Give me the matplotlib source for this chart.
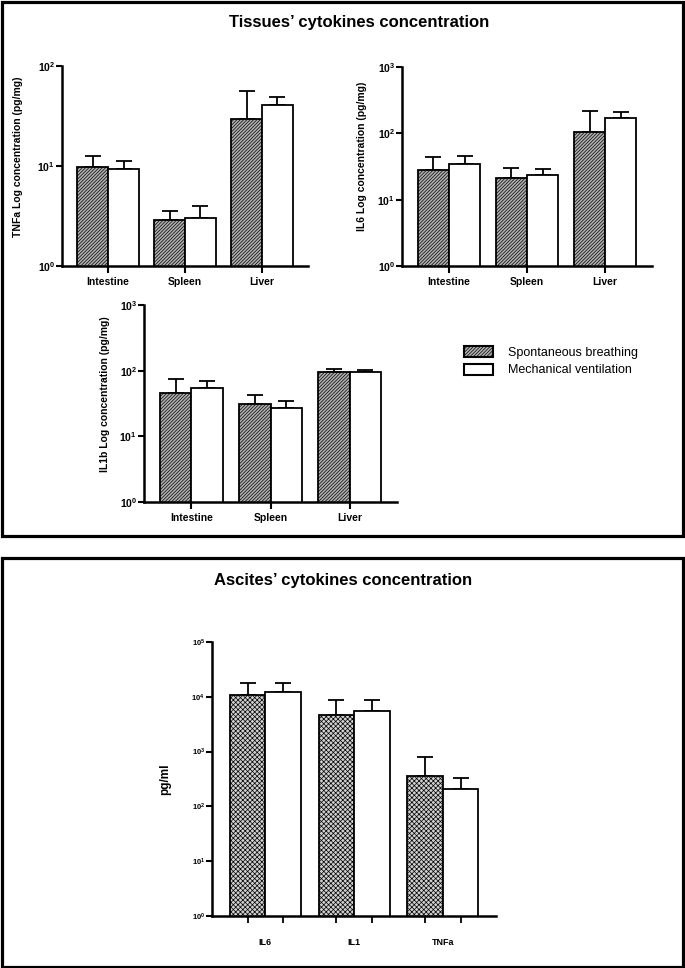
import numpy as np
import matplotlib.pyplot as plt
from matplotlib.patches import Patch, Rectangle

plt.rcParams['font.family'] = ['Liberation Sans', 'DejaVu Sans']
plt.rcParams['mathtext.fontset'] = 'custom'
plt.rcParams['mathtext.rm'] = 'Liberation Sans:bold'
plt.rcParams['mathtext.bf'] = 'Liberation Sans:bold'
plt.rcParams['mathtext.default'] = 'bf'
plt.rcParams['hatch.linewidth'] = 0.5

# tissue data (means and upper SD), pg/mg
organs = ['Intestine', 'Spleen', 'Liver']
tnfa_sb = [9.7, 2.9, 29.7]
tnfa_sb_sd = [2.9, 0.65, 26]
tnfa_mv = [9.3, 3.0, 40.7]
tnfa_mv_sd = [2.0, 1.0, 8.6]

il6_sb = [28, 21, 103]
il6_sb_sd = [16, 9, 111]
il6_mv = [34, 23.4, 170]
il6_mv_sd = [12, 6, 37]

il1b_sb = [46, 31, 94]
il1b_sb_sd = [28, 11.5, 11]
il1b_mv = [54, 27, 95]
il1b_mv_sd = [16, 8, 6]

# ascites data, pg/ml
cytokines = ['IL6', 'IL1', 'TNFa']
asc_sb = [10960, 4670, 352]
asc_sb_sd = [7000, 4200, 430]
asc_mv = [12080, 5600, 207]
asc_mv_sd = [6100, 3300, 126]

groups = ['Spontaneous breathing', 'Mechanical ventilation']

W, H = 685, 968
fig = plt.figure(figsize=(W / 100, H / 100), dpi=100)

SB_FILL = '#b0b0b0'
SB_HATCH = '//////////'


def px_axes(x0, y0, x1, y1):
    return fig.add_axes([x0 / W, 1 - y1 / H, (x1 - x0) / W, (y1 - y0) / H])


def draw(ax, cats, sb, sb_sd, mv, mv_sd, top_exp, ylabel, label_x, label_y=0.5,
         fs=7.5, tick_fs=7.5, xfs=7.5, ascites=False):
    x = np.arange(len(cats))
    w = 0.4
    for off, vals, sd, hatched in [(-w / 2, sb, sb_sd, True), (w / 2, mv, mv_sd, False)]:
        ax.errorbar(x + off, vals, yerr=[np.zeros(len(vals)), sd], fmt='none',
                    ecolor='black', elinewidth=1.3, capsize=6, capthick=1.3, zorder=1)
        if ascites:
            fill, hatch = '#d0d0d0', 'xxxxxxx'
        else:
            fill, hatch = SB_FILL, SB_HATCH
        ax.bar(x + off, vals, w, facecolor=fill if hatched else 'white',
               hatch=hatch if hatched else None,
               edgecolor='black', linewidth=1.3, zorder=2)
    ax.set_yscale('log')
    ax.set_ylim(1, 10 ** top_exp)
    ax.set_xlim(-0.6, 2.6)
    exps = range(top_exp + 1)
    ax.set_yticks([10 ** k for k in exps])
    ax.set_yticklabels([f'$10^{{{k}}}$' for k in exps], fontsize=tick_fs)
    ax.yaxis.set_minor_locator(plt.NullLocator())
    for s in ['top', 'right']:
        ax.spines[s].set_visible(False)
    for s in ['left', 'bottom']:
        ax.spines[s].set_linewidth(1.8)
    ax.tick_params(axis='y', length=4, width=1.5, pad=1)
    if ascites:
        ax.set_xticks(np.concatenate([x - w / 2, x + w / 2]))
        ax.set_xticklabels([])
        ax.tick_params(axis='x', which='major', length=5, width=1.3)
        ax.set_xticks(x, minor=True)
        ax.set_xticklabels(cats, minor=True, fontsize=xfs, fontweight='bold')
        ax.tick_params(axis='x', which='minor', length=0, pad=16)
    else:
        ax.set_xticks(x)
        ax.set_xticklabels(cats, fontsize=xfs, fontweight='bold')
        ax.tick_params(axis='x', length=5, width=1.5, pad=3)
    ax.set_ylabel(ylabel, fontsize=fs, fontweight='bold')
    ax.yaxis.set_label_coords(label_x, label_y)


ax1 = px_axes(62, 66, 308, 266)
draw(ax1, organs, tnfa_sb, tnfa_sb_sd, tnfa_mv, tnfa_mv_sd, 2,
     'TNFa Log concentration (pg/mg)', -0.16, 0.545)
ax2 = px_axes(402, 67, 652, 266)
draw(ax2, organs, il6_sb, il6_sb_sd, il6_mv, il6_mv_sd, 3,
     'IL6 Log concentration (pg/mg)', -0.14, 0.55)
ax3 = px_axes(144, 305, 397, 502)
draw(ax3, organs, il1b_sb, il1b_sb_sd, il1b_mv, il1b_mv_sd, 3,
     'IL1b Log concentration (pg/mg)', -0.136, 0.55)
ax4 = px_axes(212, 642, 496, 916)
draw(ax4, cytokines, asc_sb, asc_sb_sd, asc_mv, asc_mv_sd, 5,
     'pg/ml', -0.143, fs=8.5, tick_fs=5.5, xfs=6.5, ascites=True)

handles = [Patch(facecolor=SB_FILL, hatch=SB_HATCH, edgecolor='black', linewidth=1.5),
           Patch(facecolor='white', edgecolor='black', linewidth=1.5)]
fig.legend(handles, groups, loc='upper left', bbox_to_anchor=(458 / W, 1 - 340 / H),
           frameon=False, fontsize=9, handlelength=2.3, handleheight=1.0,
           handletextpad=1.2, labelspacing=0.35, borderpad=0)

# panel frames and titles
fig.add_artist(Rectangle((1.5 / W, 1 - 536 / H), 681 / W, 534.5 / H, transform=fig.transFigure,
                         fill=False, edgecolor='black', linewidth=2.3))
fig.add_artist(Rectangle((1.5 / W, 1 - 966.5 / H), 681 / W, 408.5 / H, transform=fig.transFigure,
                         fill=False, edgecolor='black', linewidth=2.3))
fig.text(359 / W, 1 - 22 / H, 'Tissues\u2019 cytokines concentration', ha='center', va='center',
         fontsize=12, fontweight='bold')
fig.text(343 / W, 1 - 580 / H, 'Ascites\u2019 cytokines concentration', ha='center', va='center',
         fontsize=12, fontweight='bold')

fig.savefig('out.png', dpi=100)
